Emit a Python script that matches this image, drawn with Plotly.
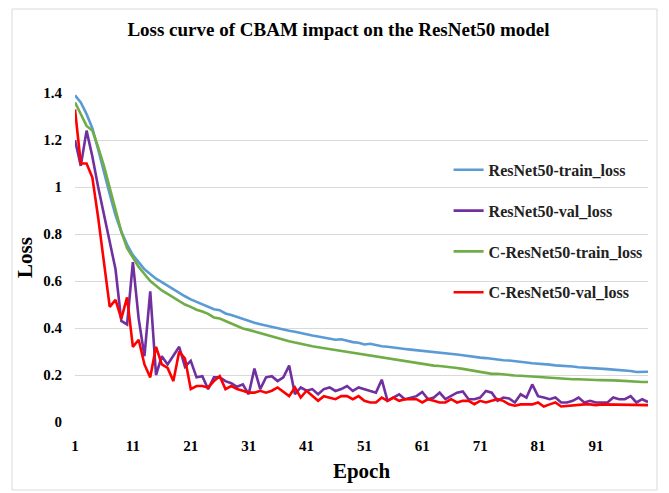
import plotly.graph_objects as go

epochs = list(range(1, 101))

resnet_train = [1.39, 1.36, 1.31, 1.25, 1.16, 1.06, 0.97, 0.88, 0.81, 0.755,
                0.71, 0.68, 0.65, 0.63, 0.61, 0.595, 0.58, 0.563, 0.55, 0.535,
                0.522, 0.512, 0.50, 0.49, 0.48, 0.476, 0.462, 0.455, 0.446, 0.438,
                0.43, 0.422, 0.416, 0.41, 0.404, 0.398, 0.394, 0.388, 0.384, 0.378,
                0.372, 0.368, 0.364, 0.36, 0.356, 0.35, 0.352, 0.345, 0.34, 0.337,
                0.33, 0.333, 0.326, 0.322, 0.32, 0.316, 0.313, 0.311, 0.308, 0.305,
                0.303, 0.30, 0.298, 0.295, 0.292, 0.29, 0.287, 0.284, 0.28, 0.277,
                0.274, 0.272, 0.268, 0.266, 0.263, 0.262, 0.258, 0.256, 0.253, 0.25,
                0.249, 0.246, 0.244, 0.241, 0.24, 0.237, 0.236, 0.233, 0.232, 0.23,
                0.229, 0.226, 0.225, 0.223, 0.222, 0.219, 0.217, 0.213, 0.212, 0.214]

resnet_val = [1.20, 1.09, 1.24, 1.13, 1.00, 0.88, 0.76, 0.65, 0.43, 0.415,
              0.68, 0.44, 0.28, 0.556, 0.20, 0.28, 0.245, 0.28, 0.32, 0.235,
              0.26, 0.19, 0.195, 0.14, 0.19, 0.19, 0.174, 0.165, 0.15, 0.16,
              0.118, 0.227, 0.14, 0.19, 0.195, 0.174, 0.19, 0.24, 0.118, 0.147,
              0.133, 0.14, 0.118, 0.14, 0.147, 0.132, 0.14, 0.153, 0.132, 0.147,
              0.14, 0.132, 0.125, 0.18, 0.09, 0.104, 0.118, 0.097, 0.104, 0.11,
              0.128, 0.097, 0.104, 0.125, 0.097, 0.11, 0.125, 0.13, 0.097, 0.097,
              0.104, 0.132, 0.125, 0.09, 0.104, 0.10, 0.083, 0.118, 0.104, 0.16,
              0.11, 0.104, 0.097, 0.104, 0.083, 0.083, 0.09, 0.104, 0.083, 0.09,
              0.083, 0.083, 0.083, 0.104, 0.097, 0.097, 0.11, 0.083, 0.097, 0.085]

cresnet_train = [1.36, 1.31, 1.26, 1.24, 1.17, 1.09, 1.00, 0.90, 0.81, 0.74,
                 0.70, 0.66, 0.63, 0.60, 0.58, 0.56, 0.545, 0.53, 0.515, 0.50,
                 0.49, 0.478, 0.47, 0.46, 0.445, 0.44, 0.43, 0.42, 0.41, 0.398,
                 0.392, 0.385, 0.378, 0.37, 0.362, 0.355, 0.35, 0.344, 0.338, 0.332,
                 0.326, 0.322, 0.318, 0.314, 0.31, 0.305, 0.302, 0.298, 0.294, 0.29,
                 0.285, 0.281, 0.277, 0.273, 0.269, 0.265, 0.262, 0.258, 0.255, 0.25,
                 0.245, 0.243, 0.24, 0.238, 0.236, 0.234, 0.23, 0.226, 0.222, 0.218,
                 0.215, 0.208, 0.205, 0.205, 0.202, 0.20, 0.198, 0.197, 0.195, 0.195,
                 0.194, 0.191, 0.188, 0.186, 0.186, 0.184, 0.182, 0.182, 0.18, 0.181,
                 0.179, 0.178, 0.176, 0.177, 0.176, 0.174, 0.172, 0.171, 0.17, 0.17]

cresnet_val = [1.33, 1.10, 1.10, 1.04, 0.87, 0.68, 0.49, 0.52, 0.44, 0.53,
               0.32, 0.35, 0.245, 0.19, 0.32, 0.245, 0.23, 0.174, 0.30, 0.27,
               0.14, 0.153, 0.153, 0.147, 0.174, 0.195, 0.14, 0.153, 0.14, 0.133,
               0.125, 0.125, 0.133, 0.125, 0.133, 0.147, 0.13, 0.11, 0.147, 0.104,
               0.133, 0.11, 0.09, 0.11, 0.104, 0.097, 0.11, 0.11, 0.097, 0.11,
               0.09, 0.083, 0.083, 0.104, 0.09, 0.104, 0.09, 0.097, 0.097, 0.097,
               0.083, 0.097, 0.09, 0.083, 0.083, 0.097, 0.083, 0.09, 0.09, 0.076,
               0.09, 0.083, 0.09, 0.097, 0.09, 0.075, 0.069, 0.075, 0.075, 0.075,
               0.083, 0.066, 0.075, 0.083, 0.066, 0.069, 0.072, 0.075, 0.075, 0.075,
               0.072, 0.075, 0.075, 0.072, 0.075, 0.075, 0.075, 0.072, 0.075, 0.072]

series_names = ["ResNet50-train_loss", "ResNet50-val_loss",
                "C-ResNet50-train_loss", "C-ResNet50-val_loss"]
series_values = [resnet_train, resnet_val, cresnet_train, cresnet_val]
series_colors = ["#5b9bd5", "#7030a0", "#70ad47", "#ff0000"]

x_tick_vals = [1, 11, 21, 31, 41, 51, 61, 71, 81, 91]
y_tick_vals = [0, 0.2, 0.4, 0.6, 0.8, 1.0, 1.2, 1.4]
y_tick_text = ["0", "0.2", "0.4", "0.6", "0.8", "1", "1.2", "1.4"]

FONT = "Liberation Serif, Times New Roman, serif"

fig = go.Figure()
for name, vals, col in zip(series_names, series_values, series_colors):
    fig.add_trace(go.Scatter(x=epochs, y=vals, mode="lines", name=f"<b>{name}</b>",
                             legendgroup=name,
                             line=dict(color=col, width=2.6)))

# page body has an 8px margin, so the figure is sized/shifted to compensate
fig.update_layout(
    width=661, height=485,
    paper_bgcolor="white", plot_bgcolor="white",
    margin=dict(l=67, r=21, t=85, b=71),
    title=dict(text="<b>Loss curve of CBAM impact on the ResNet50 model</b>",
               x=0.5, xanchor="center", y=0.955, yanchor="middle",
               font=dict(family=FONT, size=19, color="black")),
    font=dict(family=FONT, color="black"),
    legend=dict(x=0.652, y=0.818, xanchor="left", yanchor="top",
                bgcolor="rgba(0,0,0,0)", tracegroupgap=17, itemwidth=30,
                font=dict(family=FONT, size=16, color="#222")),
    showlegend=True,
)

fig.update_xaxes(range=[1, 100], tickmode="array", tickvals=x_tick_vals,
                 ticktext=[f"<b>{v}</b>" for v in x_tick_vals],
                 showgrid=False, zeroline=False, showline=False,
                 ticks="", ticklabelstandoff=13,
                 tickfont=dict(family=FONT, size=15, color="black"),
                 title=dict(text="<b>Epoch</b>", standoff=10,
                            font=dict(family=FONT, size=21, color="black")))

fig.update_yaxes(range=[0, 1.4], tickmode="array", tickvals=y_tick_vals,
                 ticktext=[f"<b>{t}</b>" for t in y_tick_text],
                 showgrid=True, gridcolor="#d9d9d9", gridwidth=1,
                 zeroline=False, showline=False, ticks="", ticklabelstandoff=12,
                 tickfont=dict(family=FONT, size=15, color="black"),
                 title=dict(text="<b>Loss</b>", standoff=4,
                            font=dict(family=FONT, size=21, color="black")))

fig.add_shape(type="rect", xref="paper", yref="paper",
              x0=(4 - 67) / 573, x1=(649 - 67) / 573,
              y0=(414 - 482) / 329, y1=(414 - 1) / 329,
              line=dict(color="#d9d9d9", width=1), fillcolor="rgba(0,0,0,0)",
              layer="below")

fig.write_html("out.html")
